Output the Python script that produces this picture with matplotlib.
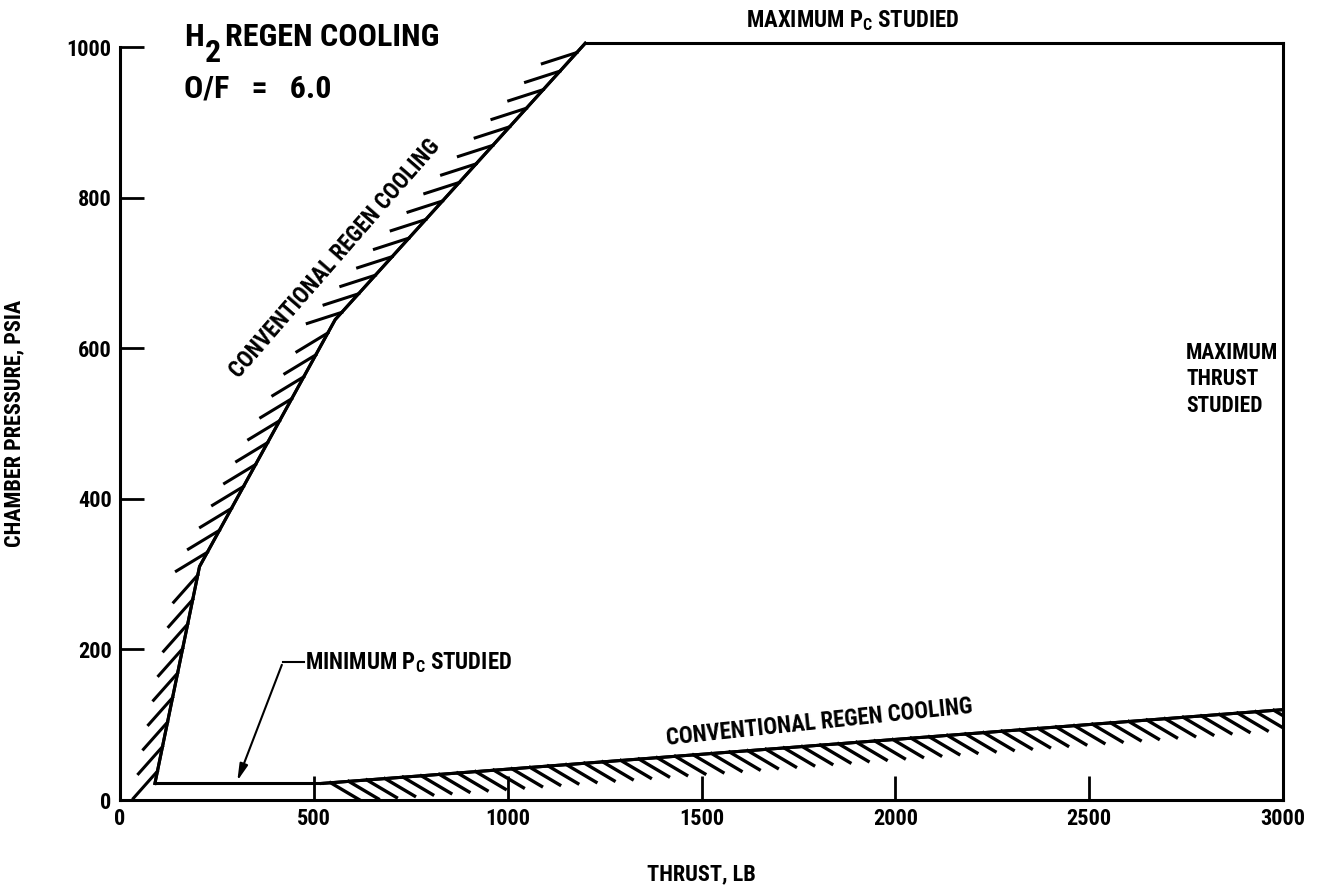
from matplotlib import pyplot as plt
from matplotlib import patheffects as pe

plt.rcParams['font.family'] = ['Liberation Sans Narrow', 'Roboto Condensed', 'DejaVu Sans']
plt.rcParams['font.stretch'] = 'condensed'
plt.rcParams['mathtext.fontset'] = 'custom'
plt.rcParams['mathtext.rm'] = 'Roboto Condensed:bold'
plt.rcParams['mathtext.default'] = 'rm'

# 左侧边界（常规再生冷却上限）
left_thrust = [90, 205, 555, 1200]
left_pc = [22, 310, 638, 1005]
# 最大室压
top_thrust = [1200, 3000]
top_pc = [1005, 1005]
# 最大推力
right_thrust = [3000, 3000]
right_pc = [0, 1005]
# 最小室压
min_thrust = [90, 520]
min_pc = [22, 22]
# 下侧边界
low_thrust = [520, 3000]
low_pc = [22, 120]

x_ticks = [0, 500, 1000, 1500, 2000, 2500, 3000]
y_ticks = [0, 200, 400, 600, 800, 1000]

fig = plt.figure(figsize=(13.22, 8.89), dpi=100)
ax = fig.add_axes([0.0908, 0.1001, 0.8797, 0.847])
ax.set_xlim(0, 3000)
ax.set_ylim(0, 1000)

lw = 2.2
ax.plot(left_thrust, left_pc, color='black', lw=lw, clip_on=False,
        path_effects=[pe.Stroke(), pe.withTickedStroke(angle=150, spacing=18, length=1.45, linewidth=2.2)])
ax.plot(top_thrust, top_pc, color='black', lw=lw, clip_on=False)
ax.plot(right_thrust, right_pc, color='black', lw=lw, clip_on=False)
ax.plot(min_thrust, min_pc, color='black', lw=lw, clip_on=False)
ax.plot(low_thrust, low_pc, color='black', lw=lw,
        path_effects=[pe.Stroke(), pe.withTickedStroke(angle=-35, spacing=13, length=1.9, linewidth=2.4)])

# 刻度和边框
for s in ['top', 'right']:
    ax.spines[s].set_visible(False)
for s in ['left', 'bottom']:
    ax.spines[s].set_linewidth(lw)
ax.set_xticks(x_ticks)
ax.set_yticks(y_ticks)
ax.set_xticklabels([str(v) for v in x_ticks])
ax.set_yticklabels([str(v) for v in y_ticks])
ax.tick_params(direction='in', length=17, width=2, labelsize=16, pad=6)
for lab in ax.get_xticklabels() + ax.get_yticklabels():
    lab.set_fontweight('bold')

ax.set_xlabel('THRUST, LB', fontsize=16, fontweight='bold', labelpad=24)
ax.set_ylabel('CHAMBER PRESSURE, PSIA', fontsize=16, fontweight='bold', labelpad=30)

# 文字说明
ax.text(165, 1002, 'H', fontsize=23, fontweight='bold', ha='left', va='baseline', clip_on=False)
ax.text(218, 980, '2', fontsize=23, fontweight='bold', ha='left', va='baseline', clip_on=False)
ax.text(270, 1002, 'REGEN COOLING', fontsize=23, fontweight='bold', ha='left', va='baseline', clip_on=False)
ax.text(165, 933, 'O/F   =   6.0', fontsize=23, fontweight='bold', ha='left', va='baseline', clip_on=False)

fs = 16.5
ax.text(1890, 1026, r'MAXIMUM P$_C$ STUDIED', fontsize=fs, fontweight='bold', ha='center', va='baseline')
ax.text(2750, 608, 'MAXIMUM\nTHRUST\nSTUDIED', fontsize=15.5, fontweight='bold', ha='left', va='top',
        linespacing=1.25)
ax.text(554, 719, 'CONVENTIONAL REGEN COOLING', fontsize=fs, fontweight='bold', rotation=49,
        ha='center', va='center')
ax.text(1804, 103, 'CONVENTIONAL REGEN COOLING', fontsize=fs, fontweight='bold', rotation=6,
        ha='center', va='center')

ax.text(477, 183, r'MINIMUM P$_C$ STUDIED', fontsize=fs, fontweight='bold', ha='left', va='center')
ax.plot([420, 474], [183, 183], color='black', lw=1.5)
ax.annotate('', xy=(300, 22), xytext=(420, 183),
            arrowprops=dict(arrowstyle='-|>,head_length=1.0,head_width=0.25', color='black', lw=1.5))

fig.savefig('out.png', dpi=100)
